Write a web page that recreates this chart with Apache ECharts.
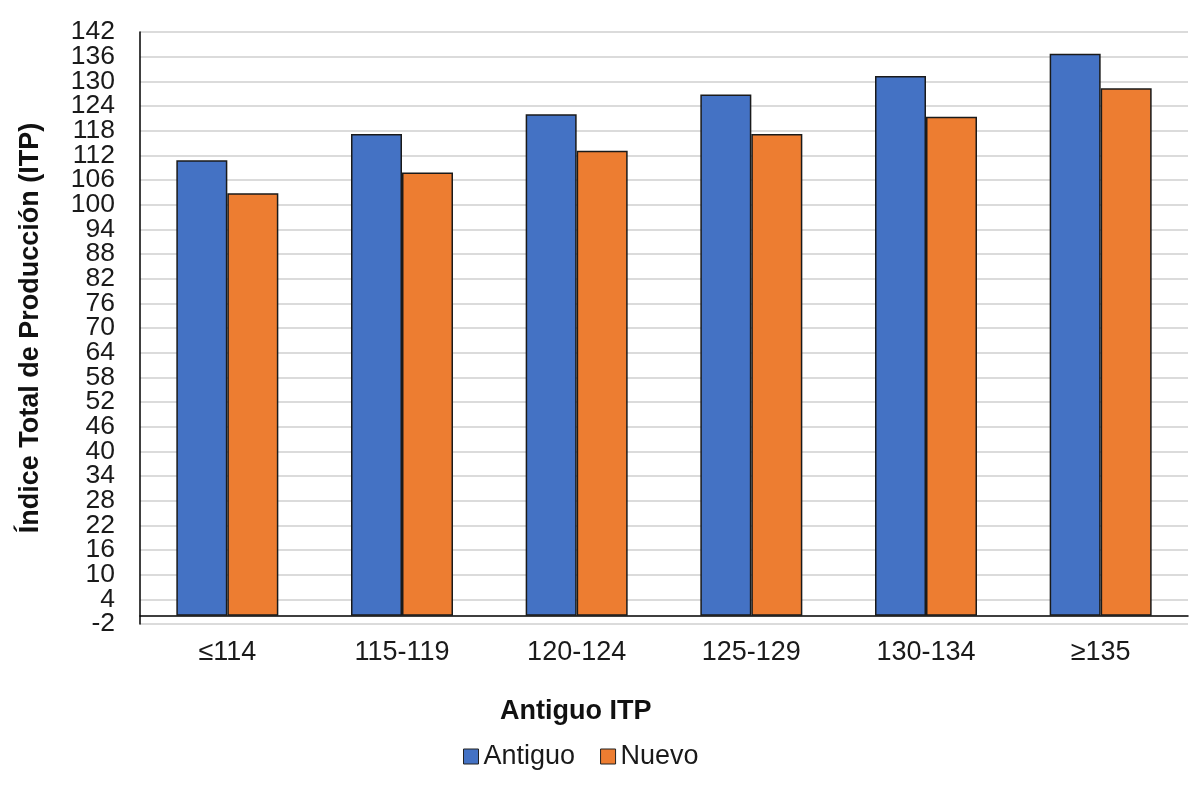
<!DOCTYPE html>
<html>
<head>
<meta charset="utf-8">
<script src="https://cdn.jsdelivr.net/npm/echarts@6/dist/echarts.min.js"></script>
<style>html,body{margin:0;padding:0;background:#fff}#c{width:1200px;height:800px}</style>
</head>
<body>
<div id="c"></div>
<script>
const categories = ['≤114', '115-119', '120-124', '125-129', '130-134', '≥135'];
const antiguo = [110.8, 117.2, 122, 126.8, 131.3, 136.7];
const nuevo = [102.8, 107.8, 113.1, 117.2, 121.4, 128.3];
const seriesNames = ['Antiguo', 'Nuevo'];
const yTickLabels = ['-2', '4', '10', '16', '22', '28', '34', '40', '46', '52', '58', '64', '70',
                     '76', '82', '88', '94', '100', '106', '112', '118', '124', '130', '136', '142'];
const yAxisTitle = 'Índice Total de Producción (ITP)';
const xAxisTitle = 'Antiguo ITP';

const chart = echarts.init(document.getElementById('c'), null, {renderer: 'canvas'});
const font = 'Arial, "Liberation Sans", sans-serif';
chart.setOption({
  animation: false,
  textStyle: {fontFamily: font},
  grid: {left: 140, right: 12, top: 32, bottom: 176, containLabel: false},
  legend: {
    data: seriesNames,
    left: 458, top: 738,
    itemWidth: 15, itemHeight: 15, itemGap: 25,
    icon: 'rect',
    textStyle: {fontSize: 27, color: '#1a1a1a', fontFamily: font},
    itemStyle: {borderColor: '#222', borderWidth: 1}
  },
  graphic: [{
    type: 'text', left: 500, top: 698,
    style: {text: xAxisTitle, fill: '#111', font: 'bold 27px Arial, "Liberation Sans", sans-serif'}
  }],
  xAxis: {
    type: 'category',
    data: categories,
    axisLine: {onZero: true, lineStyle: {color: '#000', width: 1.5}},
    axisTick: {show: false},
    axisLabel: {fontSize: 27, color: '#1a1a1a', margin: 15, fontFamily: font},
    splitLine: {show: false}
  },
  yAxis: [{
    type: 'value',
    min: -2, max: 142, interval: 6,
    name: yAxisTitle,
    nameLocation: 'middle',
    nameGap: 96,
    nameTextStyle: {fontSize: 27, fontWeight: 'bold', color: '#111', fontFamily: font},
    axisLine: {show: true, lineStyle: {color: '#000', width: 1.5}},
    axisTick: {show: false},
    axisLabel: {show: false},
    splitLine: {show: true, lineStyle: {color: '#cfcfcf', width: 1.5}}
  }, {
    type: 'category',
    data: yTickLabels,
    boundaryGap: false,
    position: 'left',
    axisLine: {show: false},
    axisTick: {show: false},
    splitLine: {show: false},
    axisLabel: {interval: 0, fontSize: 26.5, color: '#1a1a1a', margin: 25, fontFamily: font}
  }],
  series: [
    {name: seriesNames[0], type: 'bar', data: antiguo, barWidth: 51, barGap: '0%', yAxisIndex: 0,
     itemStyle: {color: '#4472C4', borderColor: '#1a1a1a', borderWidth: 1.5}},
    {name: seriesNames[1], type: 'bar', data: nuevo, barWidth: 51, barGap: '0%', yAxisIndex: 0,
     itemStyle: {color: '#ED7D31', borderColor: '#1a1a1a', borderWidth: 1.5}}
  ]
});
</script>
</body>
</html>
